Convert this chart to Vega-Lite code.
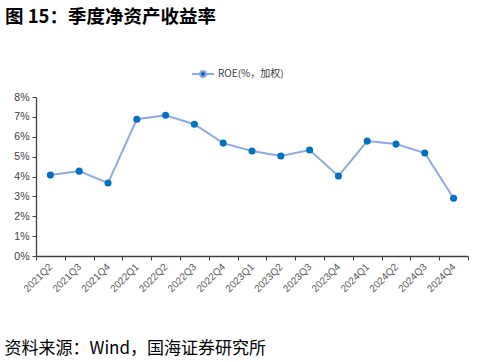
{
  "$schema": "https://vega.github.io/schema/vega-lite/v6.json",
  "width": 432,
  "height": 159,
  "autosize": {"type": "none"},
  "padding": {"left": 36, "top": 97, "right": 30, "bottom": 106},
  "background": "white",
  "config": {"view": {"stroke": null}},
  "title": {
    "text": "图 15：季度净资产收益率",
    "anchor": "start",
    "frame": "group",
    "dx": -31,
    "offset": 37,
    "font": "Noto Sans CJK SC",
    "fontSize": 18.5,
    "fontWeight": "bold",
    "color": "#000000"
  },
  "data": {
    "values": [
      {"quarter": "2021Q2", "roe": 4.07, "series": "ROE(%，加权)"},
      {"quarter": "2021Q3", "roe": 4.27, "series": "ROE(%，加权)"},
      {"quarter": "2021Q4", "roe": 3.67, "series": "ROE(%，加权)"},
      {"quarter": "2022Q1", "roe": 6.88, "series": "ROE(%，加权)"},
      {"quarter": "2022Q2", "roe": 7.08, "series": "ROE(%，加权)"},
      {"quarter": "2022Q3", "roe": 6.63, "series": "ROE(%，加权)"},
      {"quarter": "2022Q4", "roe": 5.68, "series": "ROE(%，加权)"},
      {"quarter": "2023Q1", "roe": 5.28, "series": "ROE(%，加权)"},
      {"quarter": "2023Q2", "roe": 5.03, "series": "ROE(%，加权)"},
      {"quarter": "2023Q3", "roe": 5.33, "series": "ROE(%，加权)"},
      {"quarter": "2023Q4", "roe": 4.02, "series": "ROE(%，加权)"},
      {"quarter": "2024Q1", "roe": 5.78, "series": "ROE(%，加权)"},
      {"quarter": "2024Q2", "roe": 5.63, "series": "ROE(%，加权)"},
      {"quarter": "2024Q3", "roe": 5.18, "series": "ROE(%，加权)"},
      {"quarter": "2024Q4", "roe": 2.91, "series": "ROE(%，加权)"}
    ]
  },
  "encoding": {
    "x": {
      "field": "quarter",
      "type": "ordinal",
      "sort": null,
      "scale": {"type": "band", "paddingInner": 0, "paddingOuter": 0},
      "axis": {
        "title": "资料来源：Wind，国海证券研究所",
        "titleAnchor": "start",
        "titleAlign": "left",
        "titleBaseline": "middle",
        "titleX": -32,
        "titleY": 92,
        "titleFont": "Noto Sans CJK SC",
        "titleFontSize": 17,
        "titleFontWeight": "normal",
        "titleColor": "#000000",
        "labelAngle": -45,
        "labelAlign": "right",
        "labelBaseline": "middle",
        "labelFont": "Liberation Sans",
        "labelFontSize": 10,
        "labelColor": "#595959",
        "labelPadding": 5,
        "tickBand": "extent",
        "tickSize": 4,
        "tickColor": "#404040",
        "domainColor": "#404040",
        "domainWidth": 1.3,
        "grid": false
      }
    },
    "y": {
      "field": "roe",
      "type": "quantitative",
      "scale": {"domain": [0, 8], "nice": false},
      "axis": {
        "title": null,
        "values": [0, 1, 2, 3, 4, 5, 6, 7, 8],
        "labelExpr": "datum.value + '%'",
        "labelFont": "Liberation Sans",
        "labelFontSize": 10.5,
        "labelColor": "#404040",
        "labelPadding": 3,
        "tickSize": 4,
        "tickColor": "#404040",
        "domainColor": "#404040",
        "domainWidth": 1.3,
        "grid": false
      }
    }
  },
  "layer": [
    {
      "mark": {"type": "line", "color": "#8FAADC", "strokeWidth": 2}
    },
    {
      "mark": {"type": "point", "filled": true, "size": 50, "opacity": 1},
      "encoding": {
        "color": {
          "field": "series",
          "type": "nominal",
          "scale": {"range": ["#0070C0"]},
          "legend": {
            "title": null,
            "orient": "none",
            "legendX": 156,
            "legendY": -34,
            "symbolType": "M-1.1,0H-0.3M0.3,0H1.1M-0.3,0a0.3,0.3 0 1,0 0.6,0a0.3,0.3 0 1,0 -0.6,0",
            "symbolSize": 400,
            "symbolStrokeWidth": 2,
            "symbolStrokeColor": "#8FAADC",
            "symbolFillColor": "#0070C0",
            "labelFont": "Noto Sans CJK SC",
            "labelFontSize": 10,
            "labelColor": "#404040"
          }
        }
      }
    }
  ]
}
